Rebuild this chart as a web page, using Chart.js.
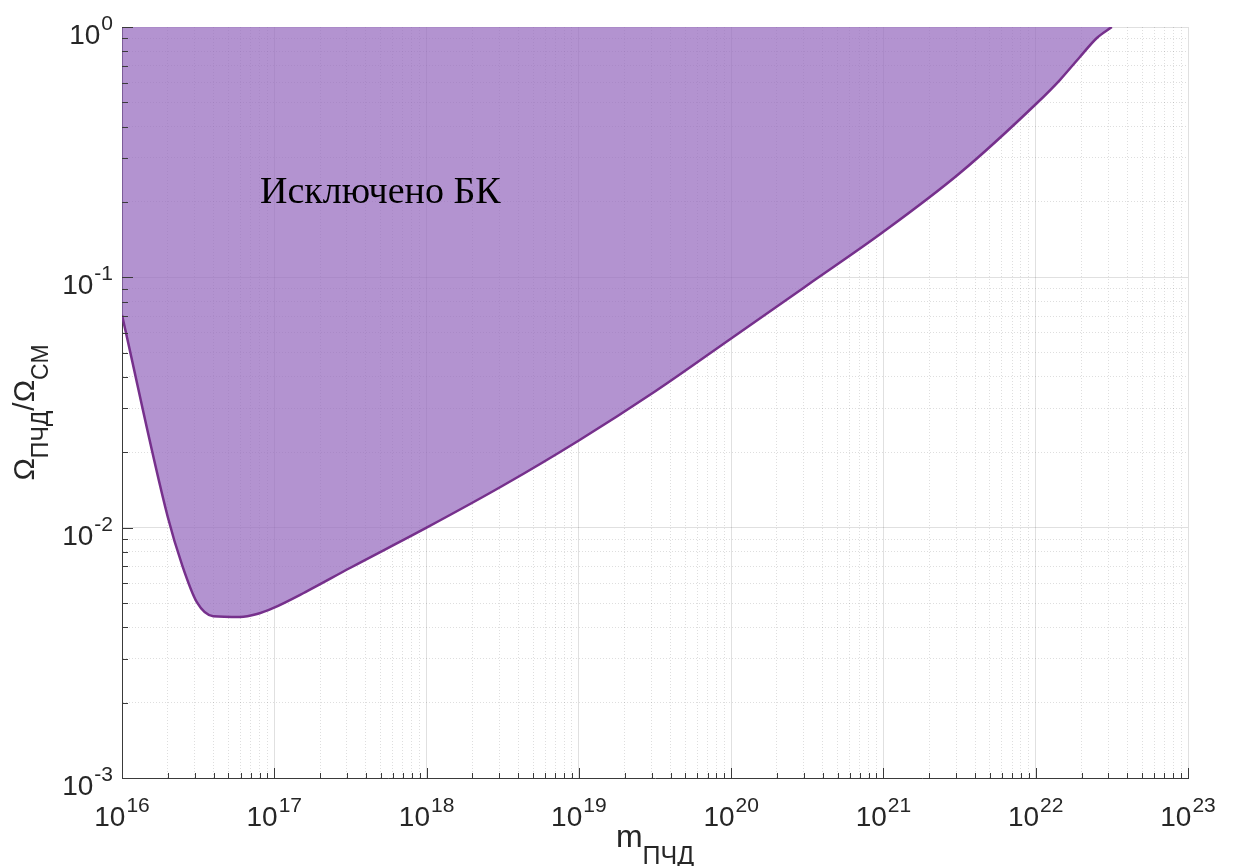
<!DOCTYPE html>
<html>
<head>
<meta charset="utf-8">
<script src="https://cdn.jsdelivr.net/npm/chart.js@4/dist/chart.umd.min.js"></script>
<style>
  html, body { margin: 0; padding: 0; background: #ffffff; }
  canvas { display: block; }
</style>
</head>
<body>
<canvas id="pbh" width="1233" height="866"></canvas>
<script>
// PBH mass, grams
const pbhMass = [1e16, 2.0e16, 2.48e16, 3.1e16, 3.97e16, 5.96e16, 7.7e16, 9.8e16,
  1.6e17, 3.14e17, 1e18, 3.16e18, 1e19, 3.16e19, 1e20, 3.16e20, 1e21, 3.18e21,
  1.02e22, 1.44e22, 1.95e22, 2.52e22, 3.16e22];
// Upper bound on the PBH fraction of dark matter
const omegaRatio = [0.0707, 0.0110, 0.0071, 0.00504, 0.00443, 0.0044, 0.00452, 0.00477,
  0.00553, 0.0069, 0.0100, 0.0147, 0.0223, 0.035, 0.057, 0.093, 0.152, 0.261,
  0.497, 0.614, 0.759, 0.904, 1.0];

// Decade exponents for axis tick labels
const xTickExponents = [16, 17, 18, 19, 20, 21, 22, 23];
const yTickExponents = [-3, -2, -1, 0];

// Region label and its anchor (mass, ratio at text baseline)
const regionLabel = 'Исключено БК';
const regionLabelAt = { x: 8.05e16, y: 0.198 };

const xTitle = { main: 'm', sub: 'ПЧД' };
const yTitle = [
  { t: 'Ω', sub: false }, { t: 'ПЧД', sub: true },
  { t: '/', sub: false }, { t: 'Ω', sub: false }, { t: 'СМ', sub: true }
];

const LINE_COLOR = 'rgb(118,48,140)';
const FILL_COLOR = 'rgba(150,105,190,0.72)';
const TEXT_COLOR = '#262626';
const SANS = '"Liberation Sans", Arial, Helvetica, sans-serif';

// Full log tick sets (1..9 per decade) from the decade exponents
function logTicks(exps) {
  const out = [];
  for (let i = 0; i < exps.length; i++) {
    const base = Math.pow(10, exps[i]);
    if (i === exps.length - 1) { out.push({ value: base }); break; }
    for (let m = 1; m <= 9; m++) out.push({ value: m * base });
  }
  return out;
}
const isDecade = v => Math.abs(Math.log10(v) - Math.round(Math.log10(v))) < 1e-9;

const gridColor = ctx => (ctx.tick && isDecade(ctx.tick.value)) ? 'rgba(0,0,0,0.12)' : 'rgba(0,0,0,0.13)';
const gridDash = ctx => (ctx.tick && !isDecade(ctx.tick.value)) ? [1, 2] : [];

function drawPower(ctx, x, y, exp, align) {
  // "10" with superscript exponent; baseline at y
  ctx.font = '28px ' + SANS;
  const wBase = ctx.measureText('10').width;
  ctx.font = '21px ' + SANS;
  const wExp = ctx.measureText(String(exp)).width;
  const total = wBase + 1 + wExp;
  let left = align === 'center' ? x - total / 2 : x - total;
  ctx.textAlign = 'left';
  ctx.textBaseline = 'alphabetic';
  ctx.font = '28px ' + SANS;
  ctx.fillText('10', left, y);
  ctx.font = '21px ' + SANS;
  ctx.fillText(String(exp), left + wBase + 1, y - 14);
}

const axisDecor = {
  id: 'axisDecor',
  afterDraw(chart) {
    const { ctx, chartArea: a, scales: { x, y } } = chart;
    ctx.save();
    // inward tick marks
    ctx.strokeStyle = '#3a3a3a';
    ctx.lineWidth = 1;
    ctx.beginPath();
    x.ticks.forEach(t => {
      const px = Math.round(x.getPixelForValue(t.value)) + 0.5;
      const len = isDecade(t.value) ? 10 : 5;
      ctx.moveTo(px, a.bottom);
      ctx.lineTo(px, a.bottom - len);
    });
    y.ticks.forEach(t => {
      const py = Math.round(y.getPixelForValue(t.value)) + 0.5;
      const len = isDecade(t.value) ? 11 : 6;
      ctx.moveTo(a.left, py);
      ctx.lineTo(a.left + len, py);
    });
    ctx.stroke();

    // tick labels
    ctx.fillStyle = TEXT_COLOR;
    xTickExponents.forEach(e => {
      drawPower(ctx, x.getPixelForValue(Math.pow(10, e)), a.bottom + 48, e, 'center');
    });
    yTickExponents.forEach(e => {
      drawPower(ctx, a.left - 9, y.getPixelForValue(Math.pow(10, e)) + 17, e, 'right');
    });

    // x title
    ctx.font = '32px ' + SANS;
    const wm = ctx.measureText(xTitle.main).width;
    ctx.font = '25px ' + SANS;
    const ws = ctx.measureText(xTitle.sub).width;
    const cx = (a.left + a.right) / 2;
    let lx = cx - (wm + ws) / 2;
    ctx.textAlign = 'left';
    ctx.font = '32px ' + SANS;
    ctx.fillText(xTitle.main, lx, a.bottom + 69);
    ctx.font = '25px ' + SANS;
    ctx.fillText(xTitle.sub, lx + wm, a.bottom + 86);

    // y title, rotated
    const mainF = '30px ' + SANS, subF = '23px ' + SANS;
    const parts = yTitle.map(p => {
      ctx.font = p.sub ? subF : mainF;
      return { ...p, w: ctx.measureText(p.t).width };
    });
    const totalW = parts.reduce((s, p) => s + p.w, 0);
    const cy = (a.top + a.bottom) / 2 + 10;
    ctx.save();
    ctx.translate(34, cy + totalW / 2);
    ctx.rotate(-Math.PI / 2);
    let u = 0;
    parts.forEach(p => {
      ctx.font = p.sub ? subF : mainF;
      ctx.fillText(p.t, u, p.sub ? 14 : 0);
      u += p.w;
    });
    ctx.restore();

    // region annotation
    ctx.fillStyle = '#000000';
    ctx.font = '38px "Liberation Serif", "Times New Roman", serif';
    ctx.fillText(regionLabel, x.getPixelForValue(regionLabelAt.x), y.getPixelForValue(regionLabelAt.y));
    ctx.restore();
  }
};

new Chart(document.getElementById('pbh'), {
  type: 'line',
  data: {
    datasets: [{
      data: pbhMass.map((m, i) => ({ x: m, y: omegaRatio[i] })),
      borderColor: LINE_COLOR,
      borderWidth: 2.5,
      backgroundColor: FILL_COLOR,
      fill: 'end',
      pointRadius: 0,
      cubicInterpolationMode: 'monotone'
    }]
  },
  options: {
    responsive: false,
    animation: false,
    devicePixelRatio: 1,
    layout: { padding: { top: 27, right: 45, left: 0, bottom: 0 } },
    plugins: { legend: { display: false }, tooltip: { enabled: false } },
    scales: {
      x: {
        type: 'logarithmic',
        min: 1e16, max: 1e23,
        afterBuildTicks: s => { s.ticks = logTicks(xTickExponents); },
        afterFit: s => { s.height = 88; },
        ticks: { display: false, autoSkip: false },
        grid: { color: gridColor, lineWidth: 1, drawTicks: false },
        border: { display: true, color: '#3a3a3a', width: 1, dash: gridDash }
      },
      y: {
        type: 'logarithmic',
        min: 1e-3, max: 1,
        afterBuildTicks: s => { s.ticks = logTicks(yTickExponents); },
        afterFit: s => { s.width = 122; },
        ticks: { display: false, autoSkip: false },
        grid: { color: gridColor, lineWidth: 1, drawTicks: false },
        border: { display: true, color: '#3a3a3a', width: 1, dash: gridDash }
      }
    }
  },
  plugins: [axisDecor]
});
</script>
</body>
</html>
